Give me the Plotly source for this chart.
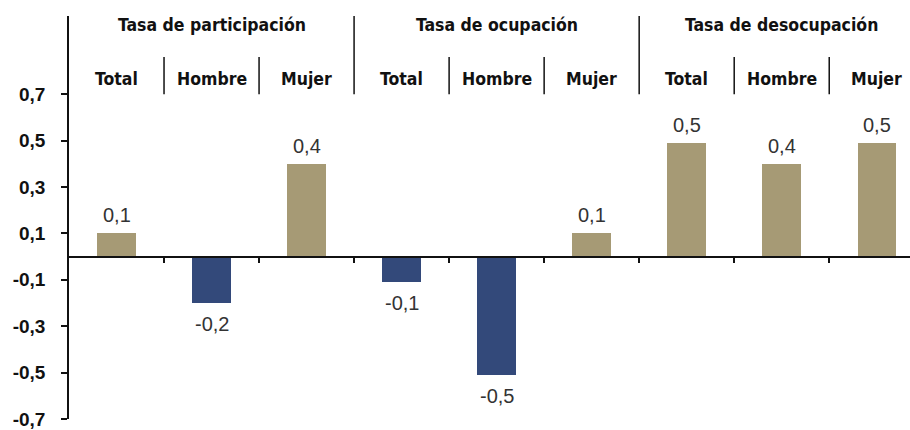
import plotly.graph_objects as go

groups = ["Tasa de participación", "Tasa de ocupación", "Tasa de desocupación"]
subcats = ["Total", "Hombre", "Mujer"]
values = [0.1, -0.2, 0.4, -0.11, -0.51, 0.1, 0.49, 0.4, 0.49]
y_ticks = [-0.7, -0.5, -0.3, -0.1, 0.1, 0.3, 0.5, 0.7]

TAN = "#A69A75"
BLUE = "#33497A"
HEAD_FONT = "Liberation Sans Narrow, DejaVu Sans Condensed, Arial Narrow, sans-serif"

n = len(values)
xs = list(range(n))
colors = [TAN if v >= 0 else BLUE for v in values]

fig = go.Figure()
fig.add_trace(go.Bar(x=xs, y=values, marker=dict(color=colors, line=dict(width=0)),
                     width=0.405, hoverinfo="skip"))

# value labels
for x, v in zip(xs, values):
    txt = f"{v:.1f}".replace(".", ",")
    fig.add_annotation(x=x, y=v, text=txt, showarrow=False,
                       yanchor="bottom" if v >= 0 else "top",
                       yshift=5 if v >= 0 else -8,
                       font=dict(family="Liberation Sans, Arial, sans-serif", size=20, color="#333333"))

y_top = 1.037
y_sub_sep = 0.86
y_group_lbl = 0.998
y_sub_lbl = 0.765

# headers
for gi, g in enumerate(groups):
    fig.add_annotation(x=gi * 3 + 1, y=y_group_lbl, text=f"<b>{g}</b>", showarrow=False,
                       font=dict(family=HEAD_FONT, size=17.5, color="#111111"))
    for si, s in enumerate(subcats):
        fig.add_annotation(x=gi * 3 + si, y=y_sub_lbl, text=f"<b>{s}</b>", showarrow=False,
                           font=dict(family=HEAD_FONT, size=17.5, color="#111111"))

# separators
for b in range(1, n):
    xb = b - 0.5
    top = y_top if b % 3 == 0 else y_sub_sep
    fig.add_shape(type="line", x0=xb, x1=xb, y0=0.7, y1=top, xref="x", yref="y",
                  line=dict(color="#111111", width=1.5))

fig.update_layout(
    width=910, height=430,
    margin=dict(l=69, r=0, t=16, b=11),
    plot_bgcolor="white", paper_bgcolor="white",
    showlegend=False, bargap=0,
)
fig.update_xaxes(
    range=[-0.5, 8.35], anchor="free", position=0.7 / (y_top + 0.7),
    showgrid=False, zeroline=False, showline=True, linecolor="#111111", linewidth=1.5,
    ticks="outside", ticklen=6, tickwidth=1.5, tickcolor="#111111",
    tickmode="array", tickvals=[b - 0.5 for b in range(1, n)], showticklabels=False,
)
fig.update_yaxes(
    range=[-0.7, y_top], showgrid=False, zeroline=False,
    showline=True, linecolor="#111111", linewidth=1.5,
    ticks="outside", ticklen=6, tickwidth=1.5, tickcolor="#111111",
    tickmode="array", tickvals=y_ticks,
    ticktext=[f"{t:.1f}".replace(".", ",") for t in y_ticks],
    tickfont=dict(family="Liberation Sans, Arial, sans-serif", size=19, color="#111111", weight="bold"),
    ticklabelstandoff=12,
)

fig.write_html("out.html", config={"displayModeBar": False},
               post_script="document.body.style.margin='0';document.body.style.overflow='hidden';")
